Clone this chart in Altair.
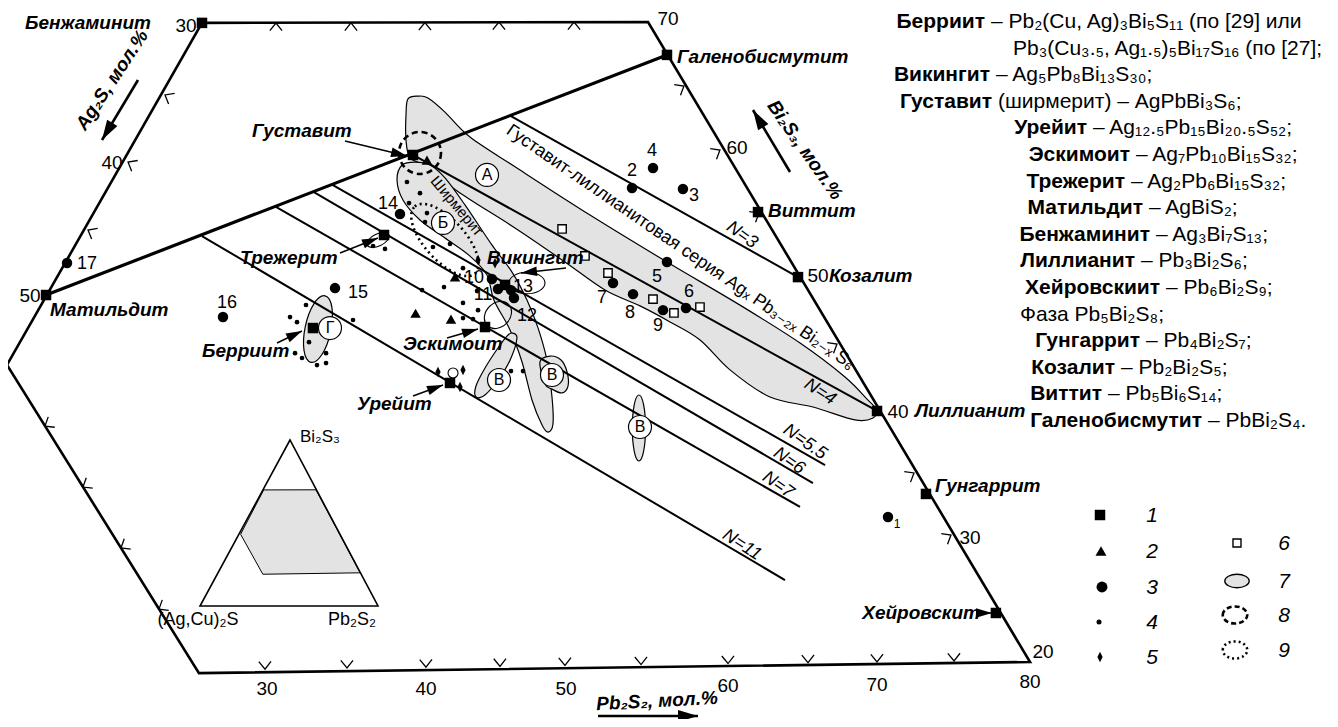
import math
import numpy as np
import pandas as pd
import altair as alt

FONT = "Liberation Sans, Arial, DejaVu Sans, sans-serif"
W, H = 1322, 711
GRAY = "#e3e3e3"

# ---------------- compositions ----------------
# ag = Ag2S mol.%, pb = Pb2S2 mol.%, Bi2S3 = 100 - ag - pb

outline_ag = [29.64, 0.26, 0.13, 55.24, 55.83]
outline_pb = [0.43, 29.74, 79.87, 25.63, 0.96]

mineral_names = ["Бенжаминит", "Матильдит", "Галенобисмутит", "Виттит", "Козалит", "Лиллианит",
                 "Гунгаррит", "Хейровскит", "Густавит", "Трежерит", "Викингит", "Эскимоит",
                 "Урейит", "Берриит"]
mineral_ag = [29.64, 50.53, 0.30, 0.45, 0.36, 0.39, 0.41, 0.46, 20.92, 25.95, 19.94, 22.90, 27.39, 34.26]
mineral_pb = [0.43, 0.80, 32.27, 44.40, 49.57, 60.00, 66.46, 75.71, 19.47, 20.69, 30.60, 30.93, 30.81, 19.65]

nline_names = ["N=3", "N=4", "N=5.5", "N=6", "N=7", "N=11"]
nline_ag0 = [13.00, 20.92, 27.40, 28.93, 32.00, 37.97]
nline_pb0 = [24.32, 19.47, 15.30, 14.33, 12.40, 8.75]
nline_ag1 = [0.36, 0.39, 5.92, 7.42, 9.21, 13.05]
nline_pb1 = [49.57, 60.00, 58.69, 58.60, 58.68, 60.55]

pt_labels = [str(i) for i in range(1, 18)]
pt_ag = [3.81, 7.80, 4.49, 5.64, 8.39, 8.94, 12.76, 11.88, 10.53, 20.57, 20.56, 19.86, 19.75, 24.08, 31.25, 39.75, 47.90]
pt_pb = [64.86, 35.17, 38.56, 35.77, 40.36, 43.41, 37.63, 39.38, 41.98, 29.51, 30.30, 31.70, 31.20, 20.92, 19.54, 13.30, 0.93]

dot_ag = [35.34, 35.08, 33.82, 35.07, 36.42, 36.15, 35.44, 34.77, 34.38, 31.31, 22.37, 21.95, 23.06, 22.27, 22.75,
          23.20, 21.96, 22.05, 25.60, 24.04, 23.41, 22.70, 24.00, 23.38, 22.02, 26.43, 27.10, 22.91, 22.12]
dot_pb = [17.71, 18.37, 18.29, 19.94, 19.45, 20.10, 21.36, 21.88, 21.49, 21.97, 20.13, 21.42, 21.09, 22.66, 22.88,
          24.38, 25.38, 27.18, 25.34, 26.67, 28.54, 29.81, 29.13, 29.83, 29.00, 21.30, 20.40, 34.36, 35.15]

tri_ag = [26.93, 24.83, 20.20, 22.92]
tri_pb = [25.82, 28.38, 20.59, 27.00]
dia_ag = [27.75, 26.03, 26.89, 20.74, 19.75]
dia_pb = [29.59, 31.16, 31.63, 27.85, 29.09]
osq_ag = [14.00, 13.55, 12.70, 10.76, 9.92, 7.98]
osq_pb = [32.17, 34.73, 36.91, 40.89, 42.81, 44.29]

# fields (type 7)
A_ag = [19.06, 18.29, 17.71, 17.14, 16.47, 14.59, 11.62, 8.39, 5.27, 2.80, 1.17, 0.56, 0.38, 0.93, 2.19,
        4.45, 6.89, 8.46, 9.26, 10.53, 11.88, 13.56, 15.10, 17.06, 19.31, 20.56, 21.23, 20.79, 19.82]
A_pb = [16.95, 17.50, 18.23, 19.90, 22.52, 26.82, 33.46, 40.36, 46.85, 52.28, 56.56, 58.98, 59.85, 60.01, 58.90,
        55.63, 52.41, 48.72, 45.58, 42.90, 40.30, 37.38, 33.65, 29.03, 24.05, 20.69, 19.39, 18.42, 17.45]
S_ag = [22.03, 22.95, 23.34, 23.00, 22.06, 21.12, 20.74, 21.26, 21.37, 21.83, 22.66, 22.98, 22.86, 22.22, 21.23,
        20.12, 19.45, 19.08, 18.98, 19.24, 19.45, 19.71, 20.19, 21.06]
S_pb = [19.14, 19.40, 20.57, 22.47, 24.82, 27.17, 29.03, 30.47, 32.69, 34.73, 36.87, 38.51, 39.18, 39.19, 38.07,
        36.30, 34.45, 32.63, 30.56, 28.19, 24.84, 22.47, 20.98, 19.88]
L_ag = [21.36, 21.23, 22.55, 24.12, 25.56, 26.23, 25.80, 24.50, 22.87, 21.81]
L_pb = [32.94, 33.46, 33.87, 33.85, 33.58, 33.07, 32.64, 32.53, 32.60, 32.73]
Bb_ag = [20.65, 19.76, 19.19, 19.26, 19.75, 20.41, 20.92, 21.18]
Bb_pb = [35.91, 36.34, 37.22, 38.08, 38.70, 38.57, 37.76, 37.10]

letter_txt = ["А", "Б", "Г", "В", "В", "В"]
letter_ag = [16.83, 21.60, 33.14, 24.05, 20.37, 16.61]
letter_pb = [25.12, 24.10, 20.77, 33.92, 37.21, 45.03]

# ticks
top_ticks_ag = [24.78, 19.84, 14.96, 10.07, 5.13]
top_ticks_pb = [5.30, 10.23, 15.08, 19.93, 24.87]
right_ticks_ag = [0.40, 0.53, 0.42, 0.41, 0.38, 0.37]
right_ticks_pb = [34.60, 39.47, 44.50, 54.75, 64.85, 69.71]
bottom_ticks_ag = [50.74, 45.30, 40.07, 35.17, 30.86, 25.82, 20.06, 14.76, 10.19, 5.09]
bottom_ticks_pb = [29.82, 35.17, 40.33, 45.17, 49.41, 54.38, 60.06, 65.29, 69.80, 74.83]
left_ticks_ag = [34.89, 39.94, 45.23]
left_ticks_pb = [0.81, 1.00, 1.02]
lowleft_ticks_ag = [55.72, 55.60, 55.48, 55.37]
lowleft_ticks_pb = [5.85, 10.73, 15.61, 20.50]

list_bold = ["Берриит", "", "Викингит", "Густавит", "Урейит", "Эскимоит", "Трежерит", "Матильдит",
             "Бенжаминит", "Лиллианит", "Хейровскиит", "", "Гунгаррит", "Козалит", "Виттит", "Галенобисмутит"]
list_formula = ["– Pb₂(Cu, Ag)₃Bi₅S₁₁ (по [29] или", "Pb₃(Cu₃.₅, Ag₁.₅)₅Bi₁₇S₁₆ (по [27];",
                "– Ag₅Pb₈Bi₁₃S₃₀;", "(ширмерит) – AgPbBi₃S₆;", "– Ag₁₂.₅Pb₁₅Bi₂₀.₅S₅₂;",
                "– Ag₇Pb₁₀Bi₁₅S₃₂;", "– Ag₂Pb₆Bi₁₅S₃₂;", "– AgBiS₂;", "– Ag₃Bi₇S₁₃;",
                "– Pb₃Bi₂S₆;", "– Pb₆Bi₂S₉;", "Фаза Pb₅Bi₂S₈;", "– Pb₄Bi₂S₇;",
                "– Pb₂Bi₂S₅;", "– Pb₅Bi₆S₁₄;", "– PbBi₂S₄."]

# ---------------- projection (picture frame) ----------------
X0, KX, Y0, KY = 424.0, 7.6, 22.0, 12.8


def proj(ag, pb):
    ag = np.asarray(ag, dtype=float)
    pb = np.asarray(pb, dtype=float)
    return X0 + KX * (pb - ag), Y0 + KY * (ag + pb - 30.0)


INS = {"bi": (290.0, 440.0), "ag": (200.0, 606.0), "pb": (378.0, 606.0)}


def proj_inset(ag, pb):
    ag = np.asarray(ag, dtype=float) / 100
    pb = np.asarray(pb, dtype=float) / 100
    bi = 1 - ag - pb
    x = INS["ag"][0] * ag + INS["pb"][0] * pb + INS["bi"][0] * bi
    y = INS["ag"][1] * ag + INS["pb"][1] * pb + INS["bi"][1] * bi
    return x, y


def P(ag, pb, f=proj, ang=None):
    x, y = f(ag, pb)
    d = pd.DataFrame({"x": x, "y": y})
    if ang is not None:
        d["ang"] = ang
    return d


def poly(ag, pb, gid, f=proj):
    d = P(ag, pb, f)
    d["i"] = range(len(d))
    d["g"] = gid
    return d


def seg(ag0, pb0, ag1, pb1):
    x0, y0 = proj(ag0, pb0)
    x1, y1 = proj(ag1, pb1)
    return pd.DataFrame({"x": x0, "y": y0, "x2": x1, "y2": y1})


XS = alt.Scale(domain=[8, 8 + W], nice=False, zero=False)
YS = alt.Scale(domain=[8, 8 + H], nice=False, zero=False, reverse=True)
EX = alt.X("x:Q", scale=XS, axis=None)
EY = alt.Y("y:Q", scale=YS, axis=None)


def rules(df, **mk):
    return alt.Chart(df).mark_rule(color="black", **mk).encode(x=EX, y=EY, x2="x2:Q", y2="y2:Q")


def points(df, **mk):
    base = dict(color="black", opacity=1)
    base.update(mk)
    enc = dict(x=EX, y=EY)
    if "ang" in df.columns:
        enc["angle"] = alt.Angle("ang:Q", scale=None)
    return alt.Chart(df).mark_point(**base).encode(**enc)


def texts(df, **mk):
    base = dict(font=FONT, color="black", baseline="middle")
    base.update(mk)
    enc = dict(x=EX, y=EY, text="t:N")
    if "ang" in df.columns:
        enc["angle"] = alt.Angle("ang:Q", scale=None)
    return alt.Chart(df).mark_text(**base).encode(**enc)


def ell(r):
    return f"M-1,0A1,{r},0,1,1,1,0A1,{r},0,1,1,-1,0Z"


CHEV = "M-1,1.25L0,0L1,1.25"
HEAD = "M0,0L-2,-0.6L-2,0.6Z"
DIAM = "M0,-1L0.5,0L0,1L-0.5,0Z"

layers = []

# ---- grey fields
fields = pd.concat([poly(A_ag, A_pb, "A"), poly(S_ag, S_pb, "S"), poly(L_ag, L_pb, "L"), poly(Bb_ag, Bb_pb, "Bb")])
layers.append(alt.Chart(fields).mark_line(interpolate="cardinal-closed", fill=GRAY, stroke="black",
                                          strokeWidth=1.2).encode(x=EX, y=EY, detail="g:N", order="i:Q"))
layers.append(points(P([33.97], [20.02], ang=[102]), shape=ell(0.38), size=4624,
                     filled=False, fill=GRAY, strokeWidth=1.2))
layers.append(points(P([16.72], [45.0], ang=[90]), shape=ell(0.2), size=4356,
                     filled=False, fill=GRAY, strokeWidth=1.2))

# ---- outline, join, N lines
layers.append(alt.Chart(poly(outline_ag, outline_pb, "o")).mark_line(
    interpolate="linear-closed", color="black", strokeWidth=2.6).encode(x=EX, y=EY, order="i:Q"))
layers.append(rules(seg([mineral_ag[1]], [mineral_pb[1]], [mineral_ag[2]], [mineral_pb[2]]), strokeWidth=3.2))
layers.append(rules(seg(nline_ag0, nline_pb0, nline_ag1, nline_pb1), strokeWidth=2.0))

# ---- ticks
ox, oy = proj(outline_ag, outline_pb)


def edge_angle(i, j):
    dx, dy = ox[j] - ox[i], oy[j] - oy[i]
    nx, ny = dy, -dx  # outward normal (outline runs clockwise on screen)
    return math.degrees(math.atan2(nx, -ny)) % 360


tick_sets = [(top_ticks_ag, top_ticks_pb, edge_angle(0, 1)), (right_ticks_ag, right_ticks_pb, edge_angle(1, 2)),
             (bottom_ticks_ag, bottom_ticks_pb, edge_angle(2, 3)), (lowleft_ticks_ag, lowleft_ticks_pb, edge_angle(3, 4)),
             (left_ticks_ag, left_ticks_pb, edge_angle(4, 0))]
tk = [P(a_, p_, ang=ang) for a_, p_, ang in tick_sets]
layers.append(points(pd.concat(tk), shape=CHEV, size=150, filled=False, strokeWidth=1.3))

# ---- inset triangle
tri = poly([0, 100, 0], [0, 0, 100], "t", proj_inset)
layers.append(alt.Chart(poly(outline_ag, outline_pb, "g", proj_inset)).mark_line(
    interpolate="linear-closed", fill=GRAY, stroke="black", strokeWidth=1.0).encode(x=EX, y=EY, order="i:Q"))
layers.append(alt.Chart(tri).mark_line(interpolate="linear-closed", color="black", strokeWidth=1.6).encode(
    x=EX, y=EY, order="i:Q"))

# ---- dashed / dotted contours and small loops
layers.append(points(P([20.38], [19.85]), shape="circle", size=1764, filled=False, strokeWidth=2.6,
                     strokeDash=[6, 4]))
layers.append(points(P([22.14], [24.89], ang=[48]), shape=ell(0.45), size=8100, filled=False, strokeWidth=2.6,
                     strokeDash=[2, 3.5]))
layers.append(points(P([26.54], [20.49], ang=[335]), shape=ell(0.5), size=576, filled=False, strokeWidth=1.1))
layers.append(points(P([18.42], [31.97]), shape=ell(0.6), size=1296, filled=False, strokeWidth=1.1))
layers.append(points(P([21.58], [31.31], ang=[315]), shape=ell(0.8), size=900, filled=False, strokeWidth=1.1))
layers.append(points(P([26.8], [30.62]), shape="circle", size=100, filled=False, strokeWidth=1.1))

# ---- arrows (label pointers and axis arrows), picture frame
arrows_small = pd.DataFrame({
    "x": [345, 340, 277, 447, 413, 566, 982], "y": [141, 253, 343, 338, 396, 268, 613],
    "x2": [407, 378, 302, 478, 443, 521, 992], "y2": [156, 238, 331, 329, 385, 273, 613]})
arrows_axis = pd.DataFrame({"x": [138, 790, 598], "y": [80, 172, 716], "x2": [102, 753, 698], "y2": [140, 110, 716]})
for df, hs in [(arrows_small, 256), (arrows_axis, 400)]:
    layers.append(rules(df, strokeWidth=1.4 if hs == 256 else 2.6))
    h = pd.DataFrame({"x": df["x2"], "y": df["y2"],
                      "ang": [math.degrees(math.atan2(b - d, a - c)) % 360
                              for a, b, c, d in zip(df["x2"], df["y2"], df["x"], df["y"])]})
    layers.append(points(h, shape=HEAD, size=hs, filled=True))

# ---- markers
layers.append(points(P(dot_ag, dot_pb), shape="circle", size=22, filled=True))
layers.append(points(P(pt_ag, pt_pb), shape="circle", size=110, filled=True))
layers.append(points(P(tri_ag, tri_pb), shape="triangle-up", size=110, filled=True))
layers.append(points(P(dia_ag, dia_pb), shape=DIAM, size=110, filled=True))
layers.append(points(P(osq_ag, osq_pb), shape="square", size=70, filled=False, fill="white", strokeWidth=1.4))
layers.append(points(P(mineral_ag, mineral_pb), shape="square", size=110, filled=True))

# ---- letter circles
lc = P(letter_ag, letter_pb)
lc["t"] = letter_txt
layers.append(points(lc, shape="circle", size=529, filled=False, fill="white", strokeWidth=1.2))
layers.append(texts(lc, fontSize=16, align="center"))

# ---- labels on the diagram
lab_bi = pd.DataFrame({
    "t": ["Бенжаминит", "Матильдит", "Густавит", "Трежерит", "Берриит", "Эскимоит", "Урейит", "Викингит",
          "Галенобисмутит", "Виттит", "Козалит", "Лиллианит", "Гунгаррит"],
    "x": [25, 50, 252, 240, 202, 403, 357, 487, 677, 768, 829, 915, 935],
    "y": [23, 310, 131, 258, 351, 344, 404, 258, 57, 211, 276, 411, 486]})
layers.append(texts(lab_bi, fontSize=19, fontWeight="bold", fontStyle="italic", align="left"))
layers.append(texts(pd.DataFrame({"t": ["Хейровскит"], "x": [980], "y": [613]}), fontSize=19,
                    fontWeight="bold", fontStyle="italic", align="right"))

axis_nums = pd.DataFrame({
    "t": ["30", "40", "50", "70", "60", "50", "40", "30", "20", "30", "40", "50", "60", "70", "80"],
    "x": [186, 112, 30, 668, 737, 818, 898, 970, 1043, 267, 426, 566, 728, 877, 1030],
    "y": [26, 163, 296, 19, 148, 276, 412, 538, 652, 689, 689, 689, 686, 685, 682]})
layers.append(texts(axis_nums, fontSize=19, align="center"))

pt_lab = pd.DataFrame({
    "t": pt_labels[1:],
    "x": [632, 694, 652, 657, 689, 602, 630, 658, 474, 483, 527, 523, 388, 358, 227, 87],
    "y": [171, 196, 151, 277, 292, 298, 313, 326, 278, 295, 316, 287, 204, 293, 303, 264]})
layers.append(texts(pt_lab, fontSize=18, align="center"))
layers.append(texts(pd.DataFrame({"t": ["1"], "x": [897], "y": [524]}), fontSize=12, align="center"))

rot_bi = pd.DataFrame({"t": ["Ag₂S, мол.%", "Bi₂S₃, мол.%", "Pb₂S₂, мол.%"],
                       "x": [112, 805, 657], "y": [80, 150, 701], "ang": [303.5, 55, 357]})
layers.append(texts(rot_bi, fontSize=19, fontWeight="bold", fontStyle="italic", align="center"))

nlab = pd.DataFrame({"t": nline_names, "x": [742, 820, 805, 789, 778, 742],
                     "y": [235, 392, 442, 461, 485, 545], "ang": [36, 33, 35, 35, 35, 33]})
layers.append(texts(nlab, fontSize=18, fontStyle="italic", align="center"))

layers.append(texts(pd.DataFrame({"t": ["Ширмерит"], "x": [457], "y": [206], "ang": [50]}),
                    fontSize=15, align="center"))
layers.append(texts(pd.DataFrame({"t": ["Густавит-лиллианитовая серия Agₓ Pb₃₋₂ₓ Bi₂₋ₓ S₆"], "x": [508],
                                  "y": [129], "ang": [34.5]}), fontSize=18, align="left"))

# inset labels
layers.append(texts(pd.DataFrame({"t": ["Bi₂S₃"], "x": [300], "y": [437]}), fontSize=17, align="left"))
layers.append(texts(pd.DataFrame({"t": ["(Ag,Cu)₂S", "Pb₂S₂"], "x": [198, 352], "y": [620, 620]}),
                    fontSize=18, align="center"))

# ---- mineral list (right)
split_x = [985, 1013, 990, 992, 1087, 1130, 1125, 1143, 1150, 1135, 1160, 1020, 1140, 1115, 1102, 1202]
rows_y = [22 + 26.6 * i for i in range(len(list_bold))]
lb = pd.DataFrame({"t": list_bold, "x": split_x, "y": rows_y})
lf = pd.DataFrame({"t": list_formula, "x": [s + (0 if b == "" else 6) for s, b in zip(split_x, list_bold)],
                   "y": rows_y})
layers.append(texts(lb[lb["t"] != ""], fontSize=21, fontWeight="bold", align="right"))
layers.append(texts(lf, fontSize=21, align="left"))

# ---- symbol legend
layers.append(points(pd.DataFrame({"x": [1100], "y": [515]}), shape="square", size=110, filled=True))
layers.append(points(pd.DataFrame({"x": [1101], "y": [551]}), shape="triangle-up", size=120, filled=True))
layers.append(points(pd.DataFrame({"x": [1102], "y": [587]}), shape="circle", size=120, filled=True))
layers.append(points(pd.DataFrame({"x": [1099], "y": [622]}), shape="circle", size=25, filled=True))
layers.append(points(pd.DataFrame({"x": [1100], "y": [657]}), shape=DIAM, size=110, filled=True))
layers.append(points(pd.DataFrame({"x": [1237], "y": [543]}), shape="square", size=64, filled=False,
                     fill="white", strokeWidth=1.4))
layers.append(points(pd.DataFrame({"x": [1237], "y": [581]}), shape=ell(0.55), size=600, filled=False,
                     fill=GRAY, strokeWidth=1.3))
layers.append(points(pd.DataFrame({"x": [1235], "y": [615]}), shape=ell(0.7), size=600, filled=False,
                     strokeWidth=2.6, strokeDash=[5, 3]))
layers.append(points(pd.DataFrame({"x": [1235], "y": [650]}), shape=ell(0.7), size=600, filled=False,
                     strokeWidth=2.6, strokeDash=[2, 3]))
leg_num = pd.DataFrame({"t": [str(i) for i in range(1, 10)],
                        "x": [1152] * 5 + [1284] * 4,
                        "y": [516, 552, 588, 623, 658, 544, 582, 616, 651]})
layers.append(texts(leg_num, fontSize=21, fontStyle="italic", align="center"))

chart = alt.layer(*layers).properties(width=W, height=H, padding=0, autosize="none").configure_view(stroke=None)
chart.save("out.html", embed_options={"renderer": "svg", "actions": False})
